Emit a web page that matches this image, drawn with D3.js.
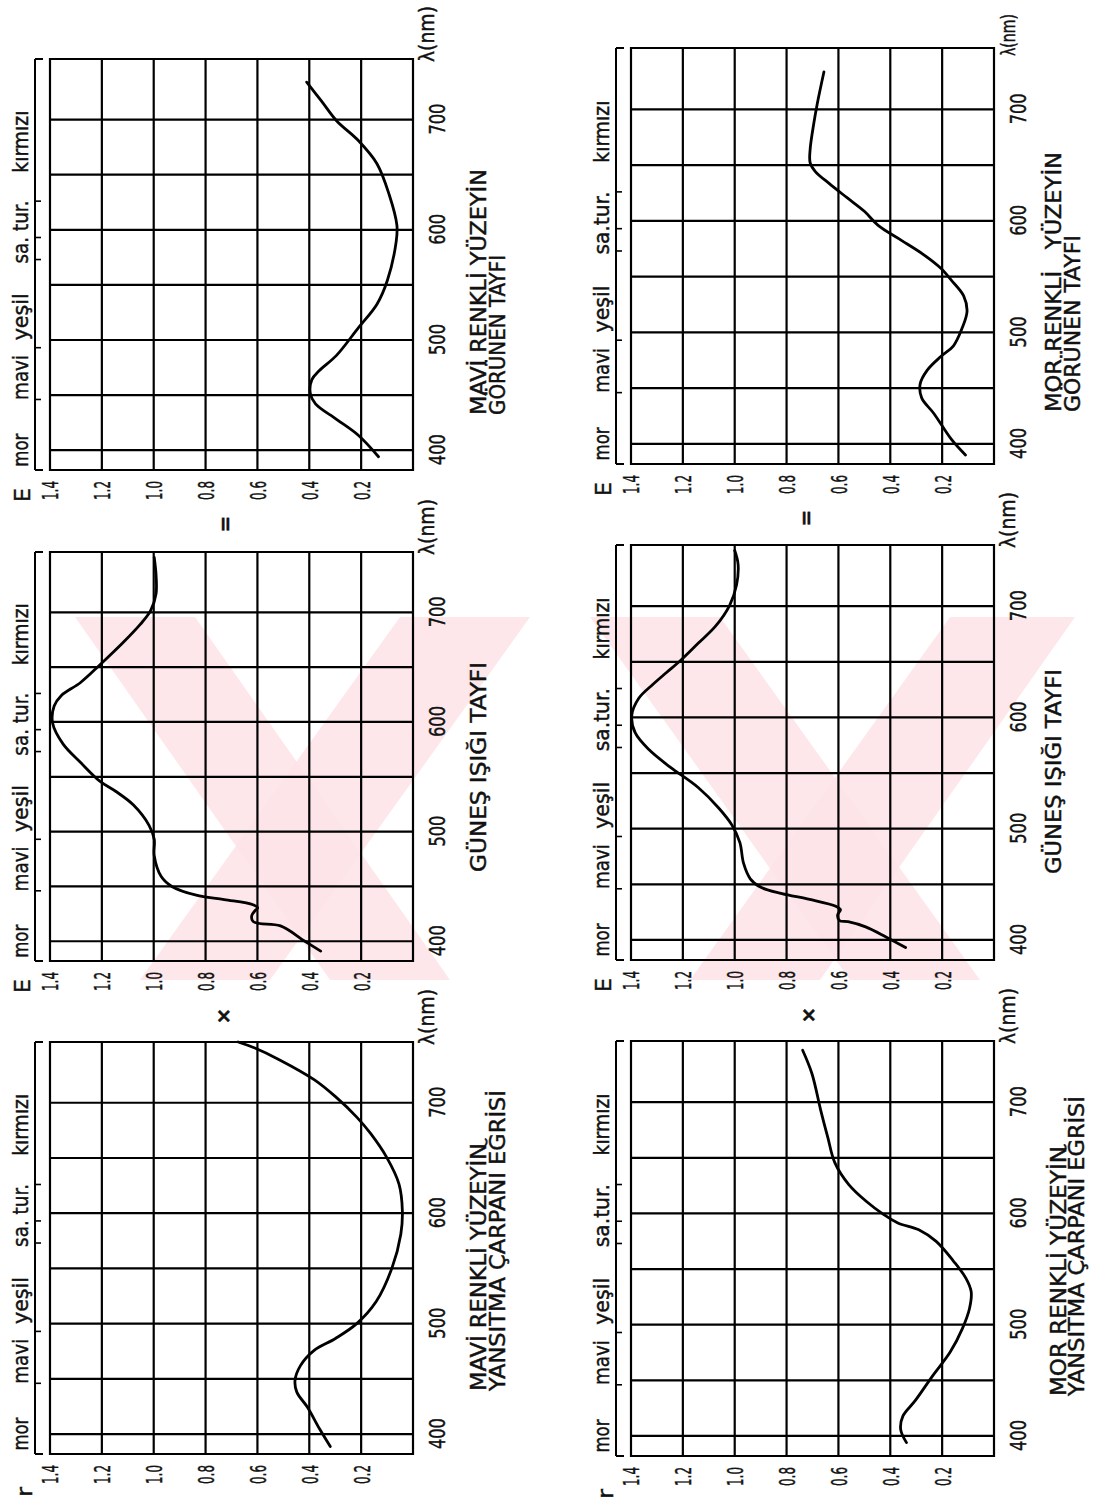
<!DOCTYPE html>
<html><head><meta charset="utf-8">
<script src="https://cdn.jsdelivr.net/npm/d3@7"></script>
<style>
body{margin:0;background:#fff}
svg text{font-family:"DejaVu Sans","Liberation Sans",sans-serif;fill:#111;stroke:#111;stroke-width:0.45px}
</style>
</head><body>
<svg id="c" width="1097" height="1506"></svg>
<script>
// ---------- data ----------
const wavelengthTicks = [400, 500, 600, 700];
const wavelengthGrid = [400, 450, 500, 550, 600, 650, 700];
const eTicks = [1.4, 1.2, 1.0, 0.8, 0.6, 0.4, 0.2];
const eTickLabels = ["1.4", "1.2", "1.0", "0.8", "0.6", "0.4", "0.2"];
const eGrid = [0, 0.2, 0.4, 0.6, 0.8, 1.0, 1.2, 1.4];
const bandEdges = [446, 493, 573, 593, 626];
const bandCenters = [400, 466, 521, 598, 680];
const bandNamesLeft = ["mor", "mavi", "yeşil", "sa. tur.", "kırmızı"];
const bandNamesRight = ["mor", "mavi", "yeşil", "sa.tur.", "kırmızı"];
const bandWidths = [33, 45, 47, 63, 62];

// [wavelength nm, value]
const maviGorunen = [[394,0.133],[413.5,0.211],[428,0.295],[442,0.376],[451.5,0.396],[464,0.39],[472,0.362],[486,0.295],[511,0.211],[532.5,0.139],[554,0.099],[589,0.065],[604,0.062],[632,0.092],[660,0.139],[681,0.211],[699,0.295],[716.5,0.352],[734,0.41]];
const gunesSol = [[391,0.356],[400,0.417],[414,0.511],[416.2,0.592],[418.1,0.617],[423.3,0.622],[428,0.609],[430.5,0.599],[433.3,0.617],[438,0.728],[442,0.836],[450,0.93],[459,0.971],[478,0.998],[493,0.998],[505.7,1.018],[524.4,1.079],[536.8,1.147],[546,1.208],[563,1.282],[580,1.35],[599,1.39],[614.5,1.384],[624,1.357],[636,1.282],[652,1.208],[672,1.12],[689,1.052],[701.5,1.012],[717,0.991],[734,0.991],[750,0.998]];
const maviYansitma = [[388.8,0.319],[404.6,0.36],[424.3,0.407],[438,0.448],[448.6,0.455],[462,0.434],[476,0.38],[486.6,0.299],[500,0.217],[520,0.142],[550.5,0.081],[581,0.047],[602,0.041],[626.4,0.054],[650.8,0.102],[672,0.163],[687,0.217],[705.5,0.299],[720.7,0.38],[739,0.516],[749.5,0.61],[755,0.674]];
const morGorunen = [[390,0.11],[404,0.164],[427.3,0.232],[441.3,0.279],[453.6,0.285],[466,0.258],[478.4,0.205],[487.7,0.157],[503.2,0.124],[518.7,0.104],[532.7,0.117],[546.6,0.164],[557.5,0.205],[569.8,0.272],[583.8,0.366],[596,0.447],[608.6,0.5],[621,0.568],[633.4,0.635],[644.2,0.689],[652,0.709],[664.4,0.709],[686,0.696],[704.6,0.682],[733.5,0.656]];
const gunesSag = [[393.2,0.341],[402.5,0.415],[411.8,0.495],[416.4,0.563],[417.5,0.596],[422.6,0.603],[427.2,0.592],[430.3,0.61],[436.5,0.711],[441.7,0.818],[447.3,0.899],[455,0.94],[469,0.966],[487.5,0.98],[503,1.01],[518.4,1.061],[537,1.141],[555.4,1.249],[570.9,1.33],[586.3,1.384],[601.8,1.397],[617.2,1.37],[629.6,1.316],[640.4,1.263],[651.2,1.209],[666.6,1.141],[682,1.074],[700.6,1.02],[719,0.993],[737.7,0.987],[750,1.0]];
const morYansitma = [[394,0.3375],[406,0.36],[418,0.351],[431.7,0.304],[454.3,0.236],[475.4,0.169],[496.5,0.122],[514.6,0.0945],[529.7,0.088],[541.7,0.108],[556.8,0.155],[574.9,0.223],[585.4,0.29],[591.5,0.371],[599,0.425],[611,0.493],[626,0.56],[645.7,0.614],[668.3,0.641],[692.5,0.668],[725.6,0.702],[746.7,0.738]];

const captions = [
  ["MAVİ RENKLİ YÜZEYİN", "GÖRÜNEN TAYFI"],
  ["GÜNEŞ IŞIĞI TAYFI"],
  ["MAVİ RENKLİ YÜZEYİN", "YANSITMA ÇARPANI EĞRİSİ"],
  ["MOR RENKLİ\u00a0\u00a0\u00a0YÜZEYİN", "GÖRÜNEN TAYFI"],
  ["GÜNEŞ IŞIĞI TAYFI"],
  ["MOR RENKLİ YÜZEYİN", "YANSITMA ÇARPANI EĞRİSİ"]
];
const axisNames = ["E", "E", "r", "E", "E", "r"];

// ---------- layout (page is drawn landscape and turned 90° ccw) ----------
const H = 1506;
const W_DOMAIN = [382, 755];
const E_DOMAIN = [0, 1.4];
const panels = [
  {x0:50,  x1:413, t:59,   b:470,  data:maviGorunen,  cap:0, capX:1091, capY:[486,505], capW:[246,160], left:true,  lam:56, lamOff:3},
  {x0:50,  x1:413, t:552,  b:961,  data:gunesSol,     cap:1, capX:634,  capY:[486],     capW:[210],     left:true,  lam:56, lamOff:3},
  {x0:50,  x1:413, t:1042, b:1454, data:maviYansitma, cap:2, capX:115,  capY:[486,505], capW:[248,301], left:true,  lam:56, lamOff:3},
  {x0:631, x1:994, t:48,   b:464,  data:morGorunen,   cap:3, capX:1094, capY:[1061,1080], capW:[260,177], left:false, lam:42, lamOff:8},
  {x0:631, x1:994, t:545,  b:960,  data:gunesSag,     cap:4, capX:632,  capY:[1061],    capW:[205],     left:false, lam:56, lamOff:3},
  {x0:631, x1:994, t:1041, b:1456, data:morYansitma,  cap:5, capX:110,  capY:[1066,1084], capW:[250,300], left:false, lam:56, lamOff:3}
];

const svg = d3.select("#c");

// watermark (light pink diagonal bands), image coordinates
const wm = [
  [[75,617],[195,617],[450,980],[330,980]],
  [[400,617],[530,617],[270,980],[140,980]],
  [[590,617],[720,617],[980,980],[850,980]],
  [[950,617],[1075,617],[820,980],[690,980]]
];
svg.append("g").selectAll("polygon").data(wm).join("polygon")
  .attr("points", d => d.map(p => p.join(",")).join(" "))
  .attr("fill", "#fde3e8").attr("opacity", 0.85);

const g = svg.append("g").attr("transform", `translate(0,${H}) rotate(-90)`);

function txt(sel, s, x, y, size, len, anchor) {
  const t = sel.append("text").attr("x", x).attr("y", y).attr("font-size", size).text(s);
  if (len) t.attr("textLength", len).attr("lengthAdjust", "spacingAndGlyphs");
  if (anchor) t.attr("text-anchor", anchor);
  return t;
}

panels.forEach((p, pi) => {
  const X = d3.scaleLinear().domain(W_DOMAIN).range([H - p.b, H - p.t]);
  const Y = d3.scaleLinear().domain(E_DOMAIN).range([p.x1, p.x0]);
  const pg = g.append("g");
  const xs = X(W_DOMAIN[0]), xe = X(W_DOMAIN[1]);

  // grid
  pg.append("g").selectAll("line").data(wavelengthGrid.concat(W_DOMAIN)).join("line")
    .attr("x1", d => X(d)).attr("x2", d => X(d))
    .attr("y1", Y(0)).attr("y2", Y(1.4))
    .attr("stroke", "#000").attr("stroke-width", 2.2);
  pg.append("g").selectAll("line").data(eGrid).join("line")
    .attr("x1", xs - 1).attr("x2", xe + 1)
    .attr("y1", d => Y(d)).attr("y2", d => Y(d))
    .attr("stroke", "#000").attr("stroke-width", 2.2);

  // E / r axis labels
  const ay = pg.append("g").attr("transform", `translate(${xs},0)`)
    .call(d3.axisLeft(Y).tickValues(eTicks).tickFormat((d, i) => eTickLabels[i]).tickSize(0).tickPadding(11));
  ay.attr("font-family", null).attr("font-size", null);
  ay.select(".domain").remove();
  ay.selectAll("text").attr("font-size", 22).attr("textLength", 19).attr("lengthAdjust", "spacingAndGlyphs").attr("dy", "0.36em");

  // wavelength labels
  const ax = pg.append("g").attr("transform", `translate(0,${Y(0)})`)
    .call(d3.axisBottom(X).tickValues(wavelengthTicks).tickFormat(d3.format("d")).tickSize(0).tickPadding(16));
  ax.attr("font-family", null).attr("font-size", null);
  ax.select(".domain").remove();
  ax.selectAll("text").attr("font-size", 22).attr("textLength", 31).attr("lengthAdjust", "spacingAndGlyphs");

  // λ(nm)
  txt(pg, "λ(nm)", xe - p.lamOff, Y(0) + 21, p.lam < 50 ? 19 : 21, p.lam, "start");

  // axis name
  if (axisNames[pi] === "E") txt(pg, "E", xs - 32, p.x0 - 20, 22, 14, "start");
  else txt(pg, "r", xs - 43, p.x0 - 18, 22, 10, "start");

  // colour band bracket
  const by = p.x0 - 15;
  pg.append("line").attr("x1", xs).attr("x2", xe).attr("y1", by).attr("y2", by)
    .attr("stroke", "#000").attr("stroke-width", 2);
  pg.append("g").selectAll("line").data([W_DOMAIN[0], W_DOMAIN[1]]).join("line")
    .attr("x1", d => X(d)).attr("x2", d => X(d)).attr("y1", by).attr("y2", by + 8)
    .attr("stroke", "#000").attr("stroke-width", 2);
  pg.append("g").selectAll("line").data(bandEdges).join("line")
    .attr("x1", d => X(d)).attr("x2", d => X(d)).attr("y1", by).attr("y2", by + 6)
    .attr("stroke", "#000").attr("stroke-width", 1.6);
  const names = p.left ? bandNamesLeft : bandNamesRight;
  pg.append("g").selectAll("text").data(bandCenters).join("text")
    .attr("x", d => X(d)).attr("y", p.x0 - 22)
    .attr("text-anchor", "middle").attr("font-size", 22)
    .attr("textLength", (d, i) => bandWidths[i]).attr("lengthAdjust", "spacingAndGlyphs")
    .text((d, i) => names[i]);

  // caption
  captions[p.cap].forEach((c, i) => txt(pg, c, p.capX, p.capY[i], 21, p.capW[i], "start"));

  // curve
  const line = d3.line().x(d => X(d[0])).y(d => Y(d[1])).curve(d3.curveCatmullRom.alpha(0.5));
  pg.append("path").datum(p.data).attr("d", line)
    .attr("fill", "none").attr("stroke", "#000").attr("stroke-width", 2.8)
    .attr("stroke-linejoin", "round").attr("stroke-linecap", "round");
});

// operators between panels (landscape coordinates)
const ops = [["=", 982, 225], ["×", 490, 223], ["=", 988, 806], ["×", 491, 808]];
g.append("g").selectAll("text").data(ops).join("text")
  .attr("x", d => d[1]).attr("y", d => d[2]).attr("dy", "0.35em")
  .attr("text-anchor", "middle").attr("font-size", 20).attr("font-weight", "bold")
  .text(d => d[0]);
</script>
</body></html>
